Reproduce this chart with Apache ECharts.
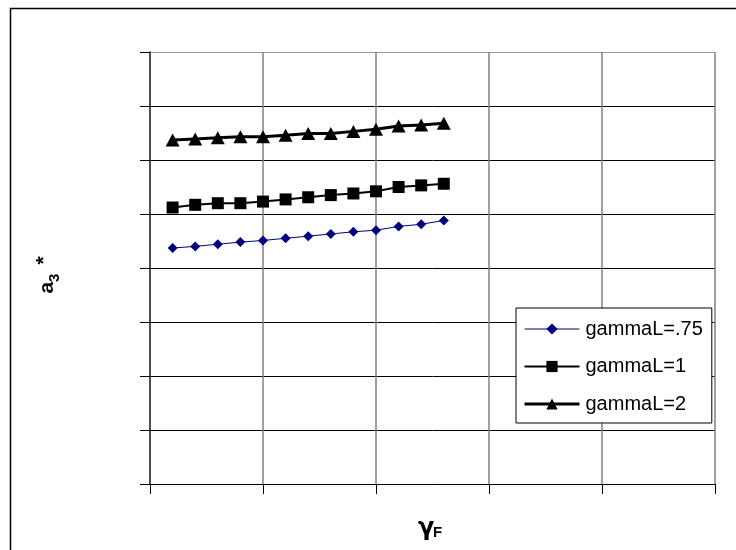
<!DOCTYPE html>
<html>
<head>
<meta charset="utf-8">
<script src="https://cdn.jsdelivr.net/npm/echarts@6/dist/echarts.min.js"></script>
<style>
  html, body { margin: 0; padding: 0; background: #fff; }
  #chart { width: 736px; height: 550px; }
</style>
</head>
<body>
<div id="chart"></div>
<script>
// gamma_F values along the horizontal axis
const gammaF = [0.2, 0.4, 0.6, 0.8, 1.0, 1.2, 1.4, 1.6, 1.8, 2.0, 2.2, 2.4, 2.6];

// a3* for each gammaL setting
const gammaL075 = [4.37, 4.40, 4.44, 4.48, 4.51, 4.55, 4.59, 4.63, 4.67, 4.70, 4.77, 4.81, 4.88];
const gammaL1   = [5.12, 5.17, 5.20, 5.20, 5.23, 5.27, 5.31, 5.35, 5.38, 5.42, 5.50, 5.53, 5.56];
const gammaL2   = [6.37, 6.39, 6.41, 6.43, 6.43, 6.46, 6.49, 6.49, 6.53, 6.57, 6.63, 6.65, 6.68];

const seriesNames = ['gammaL=.75', 'gammaL=1', 'gammaL=2'];

const pairs = ys => gammaF.map((x, i) => [x, ys[i]]);

const FONT = '"Liberation Sans", Arial, sans-serif';

const lineStyles = [
  { color: '#000080', width: 1 },
  { color: '#000', width: 2 },
  { color: '#000', width: 3 }
];
const symbols = ['diamond', 'rect', 'triangle'];
const symbolSizes = [10, 12, [14, 13]];

const chart = echarts.init(document.getElementById('chart'), null, { renderer: 'canvas' });

chart.setOption({
  animation: false,
  backgroundColor: '#fff',
  textStyle: { fontFamily: FONT, color: '#000' },
  grid: { left: 150, top: 52, width: 565, height: 432, show: false },
  xAxis: {
    type: 'value', min: 0, max: 5, interval: 1,
    axisLine: { show: true, onZero: false, lineStyle: { color: '#000', width: 1 } },
    axisTick: { show: true, inside: false, length: 10, lineStyle: { color: '#000' } },
    axisLabel: { show: false },
    splitLine: { show: true, lineStyle: { color: '#808080', width: 1.5 } }
  },
  yAxis: {
    type: 'value', min: 0, max: 8, interval: 1,
    name: '{a|a}{s|3}{p|*}',
    nameLocation: 'middle',
    nameRotate: 90,
    nameGap: 92,
    nameTextStyle: {
      rich: {
        a: { fontFamily: FONT, fontWeight: 'bold', fontSize: 21, color: '#000', lineHeight: 24, verticalAlign: 'bottom' },
        s: { fontFamily: FONT, fontWeight: 'bold', fontSize: 15, color: '#000', lineHeight: 24, verticalAlign: 'bottom', padding: [0, 0, -4, 0] },
        p: { fontFamily: FONT, fontWeight: 'bold', fontSize: 21, color: '#000', lineHeight: 24, verticalAlign: 'top', padding: [0, 14, 10, 9] }
      }
    },
    axisLine: { show: true, onZero: false, lineStyle: { color: '#333', width: 1.5 } },
    axisTick: { show: true, inside: false, length: 10, lineStyle: { color: '#000' } },
    axisLabel: { show: false },
    splitLine: {
      show: true,
      lineStyle: { color: ['#000', '#000', '#000', '#000', '#000', '#000', '#000', '#000', '#999'], width: 1 }
    }
  },
  legend: {
    orient: 'vertical',
    left: 516, top: 308,
    padding: [11, 9, 9, 7],
    itemGap: 17.5,
    itemWidth: 55, itemHeight: 14,
    borderColor: '#000', borderWidth: 1,
    backgroundColor: '#fff',
    textStyle: { fontFamily: FONT, fontSize: 20, color: '#000', padding: [0, 0, 0, 1] },
    data: seriesNames.map((n, i) => ({
      name: n,
      lineStyle: lineStyles[i]
    }))
  },
  series: seriesNames.map((n, i) => ({
    name: n, type: 'line',
    data: pairs([gammaL075, gammaL1, gammaL2][i]),
    symbol: symbols[i], symbolSize: symbolSizes[i],
    lineStyle: lineStyles[i],
    itemStyle: { color: lineStyles[i].color }
  })),
  graphic: [
    // outer frame of the chart area
    {
      type: 'rect', z: -1, silent: true,
      shape: { x: 10.5, y: 8.5, width: 760, height: 600 },
      style: { fill: 'none', stroke: '#000', lineWidth: 1.5 }
    },
    // horizontal axis title: gamma_F
    { type: 'text', x: 418, y: 529,
      style: { text: 'γ', font: 'bold 24px "DejaVu Sans", sans-serif', fill: '#000', align: 'left', verticalAlign: 'middle' } },
    { type: 'text', x: 433, y: 533,
      style: { text: 'F', font: 'bold 15px ' + FONT, fill: '#000', align: 'left', verticalAlign: 'middle' } }
  ]
});
</script>
</body>
</html>
